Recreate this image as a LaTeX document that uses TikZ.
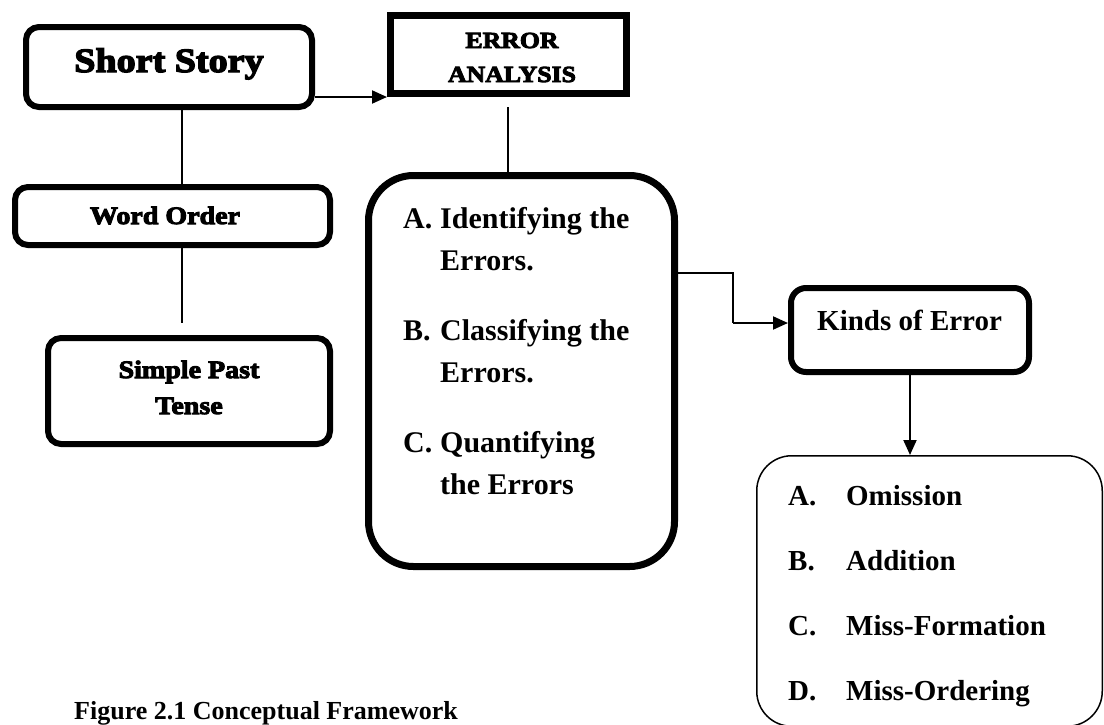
\documentclass[tikz,border=0pt]{standalone}
\usepackage{fontspec}
\setmainfont{Liberation Serif}
\newfontfamily\heavy{Liberation Serif Bold}[FakeBold=4,FakeStretch=1.12]
\usetikzlibrary{arrows.meta}
\begin{document}
\begin{tikzpicture}[x=1pt,y=-1pt,
  box/.style={draw, line width=6pt, rounded corners=13pt, inner sep=0pt, anchor=north west},
  plainline/.style={line width=1.5pt},
  arr/.style={line width=2pt, -{Triangle[length=15pt,width=13pt]}},
  heavytext/.style={inner sep=0pt, anchor=base, font=\heavy\fontsize{#1}{#1}\selectfont},
  listtext/.style={inner sep=0pt, anchor=base west}
]
\useasboundingbox (0,0) rectangle (1104,724);
\clip (0,0) rectangle (1104,724);

% boxes
\node[box, minimum width=286pt, minimum height=80pt] (ss) at (23,24) {};
\node[draw, line width=7pt, inner sep=0pt, anchor=north west, minimum width=236pt, minimum height=78pt] (ea) at (387,12) {};
\node[box, minimum width=315pt, minimum height=58pt] (wo) at (12,184) {};
\node[box, minimum width=282pt, minimum height=106pt] (sp) at (45,335) {};
\node[box, line width=7pt, rounded corners=45pt, minimum width=306pt, minimum height=391pt] (big) at (365,172) {};
\node[box, rounded corners=15pt, minimum width=238pt, minimum height=84pt] (kinds) at (788,285) {};
\node[box, line width=1.5pt, rounded corners=35pt, minimum width=345.5pt, minimum height=270.5pt] (kinds2) at (756,455) {};

% texts
\node[heavytext=34] (sstext) at (169,72) {Short Story};
\node[heavytext=23] (eatext) at (512,48) {\fontsize{23}{34}\selectfont\begin{tabular}[t]{@{}c@{}}ERROR\\ANALYSIS\end{tabular}};
\node[heavytext=25] (wotext) at (165,224) {Word Order};
\node[heavytext=25] (sptext) at (189,378) {\fontsize{25}{36}\selectfont\begin{tabular}[t]{@{}c@{}}Simple Past\\Tense\end{tabular}};

\node[listtext] (bigtext) at (403,228) {\fontsize{30}{42}\selectfont\bfseries
  \begin{tabular}[t]{@{}p{37pt}@{}l@{}}
  A. & Identifying the\\
     & Errors.\\[28pt]
  B. & Classifying the\\
     & Errors.\\[28pt]
  C. & Quantifying\\
     & the Errors
  \end{tabular}};
\node[listtext] (kindstext) at (817,330) {\fontsize{29}{35}\selectfont\bfseries Kinds of Error};
\node[listtext] (kinds2text) at (788,505) {\fontsize{29}{65}\selectfont\bfseries
  \begin{tabular}[t]{@{}p{58pt}@{}l@{}}
  A. & Omission\\
  B. & Addition\\
  C. & Miss-Formation\\
  D. & Miss-Ordering
  \end{tabular}};
\node[listtext] (caption) at (74,719) {\fontsize{26}{30}\selectfont\bfseries Figure 2.1 Conceptual Framework};

% connectors
\coordinate (xleft) at (182,0);
\coordinate (xmid) at (508,0);
\coordinate (e1) at (733,273);
\coordinate (e2) at (733,323);

\draw[arr] (ss.east |- ea.south west) -- (ea.south west);
\draw[plainline] (ss.south -| xleft) -- (wo.north -| xleft);
\draw[plainline, shorten >=12pt] (wo.south -| xleft) -- (sp.north -| xleft);
\draw[plainline, shorten <=10pt] (ea.south -| xmid) -- (big.north -| xmid);
\draw[line width=2pt] (big.east |- e1) -- (e1) -- (e2);
\draw[arr] (e2) -- (kinds.west |- e2);
\draw[arr] (kinds.south) -- (kinds.south |- kinds2.north);
\end{tikzpicture}
\end{document}
